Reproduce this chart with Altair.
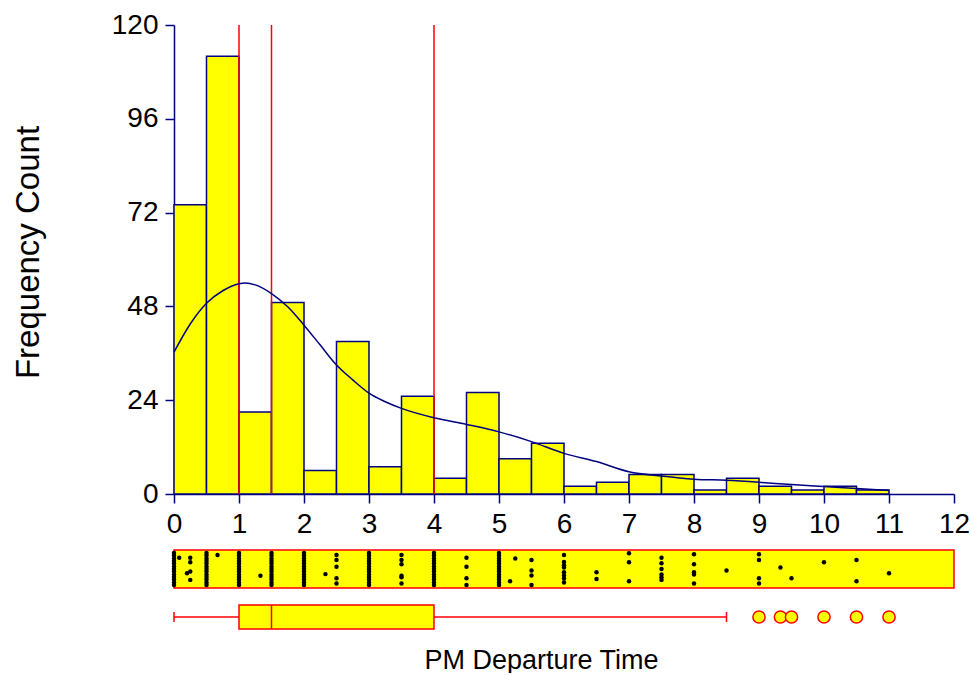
import altair as alt
import pandas as pd

NAVY = "#000080"
RED = "#FF0000"
YELLOW = "#FFFF00"
FONT = "Liberation Sans"

# Histogram of departure times (half-hour bins)
bin_start = [0.0, 0.5, 1.0, 1.5, 2.0, 2.5, 3.0, 3.5, 4.0, 4.5, 5.0,
             5.5, 6.0, 6.5, 7.0, 7.5, 8.0, 8.5, 9.0, 9.5, 10.0, 10.5]
bin_end = [0.5, 1.0, 1.5, 2.0, 2.5, 3.0, 3.5, 4.0, 4.5, 5.0, 5.5,
           6.0, 6.5, 7.0, 7.5, 8.0, 8.5, 9.0, 9.5, 10.0, 10.5, 11.0]
counts = [74, 112, 21, 49, 6, 39, 7, 25, 4, 26, 9,
          13, 2, 3, 5, 5, 1, 4, 2, 1, 2, 1]

# Smoothed density, scaled to counts
curve_x = [0.0, 0.25, 0.5, 0.75, 1.0, 1.1, 1.25, 1.5, 1.75, 2.0, 2.25, 2.5,
           2.75, 3.0, 3.25, 3.5, 4.0, 4.5, 5.0, 5.5, 6.0, 6.5, 7.0, 7.5,
           8.0, 8.5, 9.0, 9.5, 10.0, 10.5, 11.0]
curve_y = [36.3, 43.5, 48.8, 52.0, 53.8, 54.0, 53.5, 51.3, 47.9, 43.2, 38.1, 33.0,
           29.2, 25.8, 23.6, 21.9, 19.5, 17.8, 15.9, 13.4, 10.4, 8.3, 5.7, 4.6,
           3.8, 3.5, 3.0, 2.4, 1.9, 1.4, 0.9]

# Quartiles and whiskers
q1, median, q3 = 1.0, 1.5, 4.0
whisker_low, whisker_high = 0.0, 8.5
outliers = [9.0, 9.33, 9.5, 10.0, 10.5, 11.0]

# Jittered dot strip of the raw values
dense_column = [0.0, 0.08, 0.17, 0.25, 0.33, 0.42, 0.5, 0.58, 0.67, 0.75, 0.83, 0.92, 1.0]
strip_values = [0.0, 0.08, 0.2, 0.25, 0.5, 0.67, 1.0, 1.33, 1.5, 2.0, 2.33, 2.5,
                3.0, 3.5, 4.0, 4.5, 5.0, 5.17, 5.25, 5.5, 6.0, 6.5, 7.0, 7.5,
                8.0, 8.5, 9.0, 9.33, 9.5, 10.0, 10.5, 11.0]
strip_jitter = [
    dense_column, [0.15], [0.63], [0.15, 0.29, 0.58, 0.84],
    dense_column, [0.06], dense_column, [0.71],
    dense_column, dense_column, [0.66], [0.06, 0.22, 0.43, 0.79, 0.95],
    dense_column, [0.06, 0.22, 0.35, 0.71, 0.76, 0.95], dense_column, [0.15, 0.43, 0.79, 1.0],
    dense_column, [0.88], [0.17], [0.22, 0.55, 0.7, 1.0],
    [0.06, 0.28, 0.38, 0.45, 0.6, 0.7, 0.8, 0.92], [0.6, 0.81], [0.01, 0.29, 0.88],
    [0.15, 0.32, 0.5, 0.67, 0.76, 0.84],
    [0.04, 0.35, 0.6, 0.67, 0.95], [0.55], [0.04, 0.22, 0.79, 0.95], [0.45],
    [0.79], [0.29], [0.22, 0.88], [0.63],
]

x_ticks = list(range(0, 13))
y_ticks = [0, 24, 48, 72, 96, 120]

hist_df = pd.DataFrame({"start": bin_start, "end": bin_end, "count": counts})
curve_df = pd.DataFrame({"x": curve_x, "y": curve_y})
quart_df = pd.DataFrame({"q": [q1, median, q3]})
strip_df = pd.DataFrame(
    [{"value": v, "jitter": j} for v, js in zip(strip_values, strip_jitter) for j in js]
)
box_df = pd.DataFrame({"lo": [whisker_low], "q1": [q1], "median": [median],
                       "q3": [q3], "hi": [whisker_high]})
out_df = pd.DataFrame({"v": outliers})

x_scale = alt.Scale(domain=[0, 12], nice=False, zero=False)
y_scale = alt.Scale(domain=[0, 120], nice=False)

hist_x_axis = alt.Axis(values=x_ticks, title=None, labelPadding=7, labelFlush=False)
hist_y_axis = alt.Axis(values=y_ticks, title="Frequency Count", labelPadding=7,
                       titleFontSize=33, titleX=-146, titleY=227,
                       titleAngle=270, titleBaseline="middle", titleAlign="center")

bars = alt.Chart(hist_df).mark_rect(fill=YELLOW, stroke=NAVY, strokeWidth=1.5).encode(
    x=alt.X("start:Q", scale=x_scale, axis=hist_x_axis),
    x2="end:Q",
    y=alt.Y("count:Q", scale=y_scale, axis=hist_y_axis),
)
quart_lines = alt.Chart(quart_df).mark_rule(color=RED, strokeWidth=1.5).encode(
    x=alt.X("q:Q", scale=x_scale, axis=hist_x_axis),
)
curve = alt.Chart(curve_df).mark_line(color=NAVY, strokeWidth=1.5, interpolate="monotone").encode(
    x=alt.X("x:Q", scale=x_scale, axis=hist_x_axis),
    y=alt.Y("y:Q", scale=y_scale, axis=hist_y_axis),
)
hist = alt.layer(bars, quart_lines, curve).properties(width=780, height=469)

strip = alt.Chart(strip_df).mark_circle(size=20, color="black", opacity=1).encode(
    x=alt.X("value:Q", scale=x_scale, axis=None),
    y=alt.Y("jitter:Q", scale=alt.Scale(domain=[-0.094, 1.094], reverse=True), axis=None),
).properties(width=780, height=38,
             view=alt.ViewBackground(fill=YELLOW, stroke=RED, strokeWidth=1.5))

box_axis = alt.Axis(title="PM Departure Time", domain=False, ticks=False, labels=False,
                    titleFontSize=27, titleX=367, titleY=11, titleAlign="center",
                    titleBaseline="top")

base = alt.Chart(box_df)
whisker_l = base.mark_rule(color=RED, strokeWidth=1.5).encode(
    x=alt.X("lo:Q", scale=x_scale, axis=box_axis), x2="q1:Q", y=alt.value(17))
whisker_r = base.mark_rule(color=RED, strokeWidth=1.5).encode(
    x=alt.X("q3:Q", scale=x_scale, axis=box_axis), x2="hi:Q", y=alt.value(17))
cap_l = base.mark_rule(color=RED, strokeWidth=1.5).encode(
    x=alt.X("lo:Q", scale=x_scale, axis=box_axis), y=alt.value(12), y2=alt.value(22))
cap_r = base.mark_rule(color=RED, strokeWidth=1.5).encode(
    x=alt.X("hi:Q", scale=x_scale, axis=box_axis), y=alt.value(12), y2=alt.value(22))
box_rect = base.mark_rect(fill=YELLOW, stroke=RED, strokeWidth=1.5).encode(
    x=alt.X("q1:Q", scale=x_scale, axis=box_axis), x2="q3:Q",
    y=alt.value(5), y2=alt.value(29))
med_line = base.mark_rule(color=RED, strokeWidth=1.5).encode(
    x=alt.X("median:Q", scale=x_scale, axis=box_axis), y=alt.value(5), y2=alt.value(29))
out_pts = alt.Chart(out_df).mark_circle(size=150, fill=YELLOW, stroke=RED,
                                        strokeWidth=1.5, opacity=1).encode(
    x=alt.X("v:Q", scale=x_scale, axis=box_axis), y=alt.value(17))

box = alt.layer(whisker_l, whisker_r, cap_l, cap_r, box_rect, med_line, out_pts).properties(
    width=780, height=36)

chart = alt.vconcat(hist, strip, box, spacing=11).properties(
    padding={"left": 12, "top": 11, "right": 0, "bottom": 0},
    background="white",
).configure_view(strokeWidth=0).configure_axis(
    grid=False,
    domainColor=NAVY, domainWidth=1.5,
    tickColor=NAVY, tickWidth=1.5, tickSize=9,
    labelFont=FONT, labelFontSize=28, labelColor="black",
    titleFont=FONT, titleFontWeight="normal", titleColor="black",
)

chart.save("out.html", embed_options={"renderer": "svg", "actions": False})
